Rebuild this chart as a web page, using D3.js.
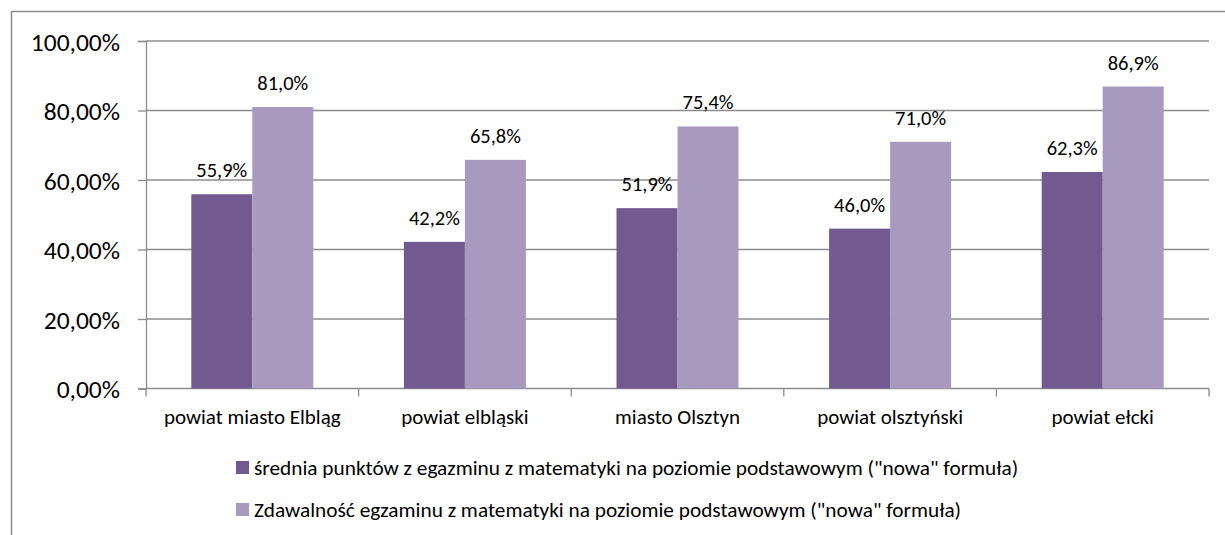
<!DOCTYPE html>
<html>
<head>
<meta charset="utf-8">
<script src="https://cdn.jsdelivr.net/npm/d3@7"></script>
<style>
  body { margin: 0; background: #fff; }
  svg text { font-family: Carlito, Calibri, Lato, sans-serif; fill: #000; }
</style>
</head>
<body>
<div id="chart"></div>
<script>
// dane z wykresu
const kategorie = ["powiat miasto Elbląg", "powiat elbląski", "miasto Olsztyn", "powiat olsztyński", "powiat ełcki"];
const srednia = [55.9, 42.2, 51.9, 46.0, 62.3];
const zdawalnosc = [81.0, 65.8, 75.4, 71.0, 86.9];
const serie = [
  "średnia punktów z egazminu z matematyki na poziomie podstawowym (\"nowa\" formuła)",
  "Zdawalność egzaminu z matematyki na poziomie podstawowym (\"nowa\" formuła)"
];
const ticki = [0, 20, 40, 60, 80, 100];
const kolory = ["#725990", "#a899be"];

const W = 1225, H = 535;
const pLeft = 146, pRight = 1209, pTop = 41, pBottom = 388.5;

const svg = d3.select("#chart").append("svg")
  .attr("width", W).attr("height", H);

// ramka wykresu
svg.append("rect")
  .attr("x", 11.5).attr("y", 11.5)
  .attr("width", W + 10).attr("height", H + 10)
  .attr("fill", "none").attr("stroke", "#8c8c8c").attr("stroke-width", 1.5);

const x = d3.scaleBand().domain(kategorie).range([pLeft, pRight]);
const y = d3.scaleLinear().domain([0, 100]).range([pBottom, pTop]);
const barW = 61;

// linie siatki
svg.append("g").selectAll("line")
  .data(ticki.filter(t => t > 0))
  .enter().append("line")
  .attr("x1", pLeft).attr("x2", pRight)
  .attr("y1", d => y(d)).attr("y2", d => y(d))
  .attr("stroke", "#8c8c8c").attr("stroke-width", 1.3);

// os Y
const osY = svg.append("g")
  .attr("transform", `translate(${pLeft},0)`)
  .call(d3.axisLeft(y).tickValues(ticki).tickSize(8).tickPadding(18)
    .tickFormat(d => d.toFixed(2).replace(".", ",") + "%"));
osY.select(".domain").attr("stroke", "#8c8c8c").attr("stroke-width", 1.3);
osY.selectAll(".tick line").attr("stroke", "#8c8c8c").attr("stroke-width", 1.3);
osY.selectAll("text").style("font-size", "25.5px").style("font-weight", 300).attr("dy", "0.36em");

// os X
const osX = svg.append("g")
  .attr("transform", `translate(0,${pBottom})`);
osX.append("line").attr("x1", pLeft).attr("x2", pRight)
  .attr("stroke", "#8c8c8c").attr("stroke-width", 1.3);
osX.selectAll("line.tk")
  .data(kategorie.map((k, i) => pLeft + i * x.bandwidth()).concat([pRight]))
  .enter().append("line").attr("class", "tk")
  .attr("x1", d => d).attr("x2", d => d)
  .attr("y1", 0).attr("y2", 8)
  .attr("stroke", "#8c8c8c").attr("stroke-width", 1.3);
osX.selectAll("text")
  .data(kategorie).enter().append("text")
  .attr("x", d => x(d) + x.bandwidth() / 2)
  .attr("y", 35)
  .attr("text-anchor", "middle")
  .style("font-size", "21px").style("font-weight", 300)
  .text(d => d);

// slupki
[srednia, zdawalnosc].forEach((vals, s) => {
  const g = svg.append("g");
  g.selectAll("rect").data(vals).enter().append("rect")
    .attr("x", (d, i) => x(kategorie[i]) + x.bandwidth() / 2 - barW + s * barW)
    .attr("y", d => y(d))
    .attr("width", barW)
    .attr("height", d => pBottom - y(d))
    .attr("fill", kolory[s]);
  g.selectAll("text").data(vals).enter().append("text")
    .attr("x", (d, i) => x(kategorie[i]) + x.bandwidth() / 2 - barW / 2 + s * barW)
    .attr("y", d => y(d) - 17)
    .attr("text-anchor", "middle")
    .style("font-size", "20.5px").style("font-weight", 300)
    .text(d => d.toFixed(1).replace(".", ",") + "%");
});

// legenda
const leg = svg.append("g");
serie.forEach((n, i) => {
  const ly = 467 + i * 42;
  leg.append("rect").attr("x", 236).attr("y", ly - 6)
    .attr("width", 13).attr("height", 13).attr("fill", kolory[i]);
  leg.append("text").attr("x", 254).attr("y", ly).attr("dy", "0.36em")
    .style("font-size", "21.3px").style("font-weight", 300).text(n);
});
</script>
</body>
</html>
